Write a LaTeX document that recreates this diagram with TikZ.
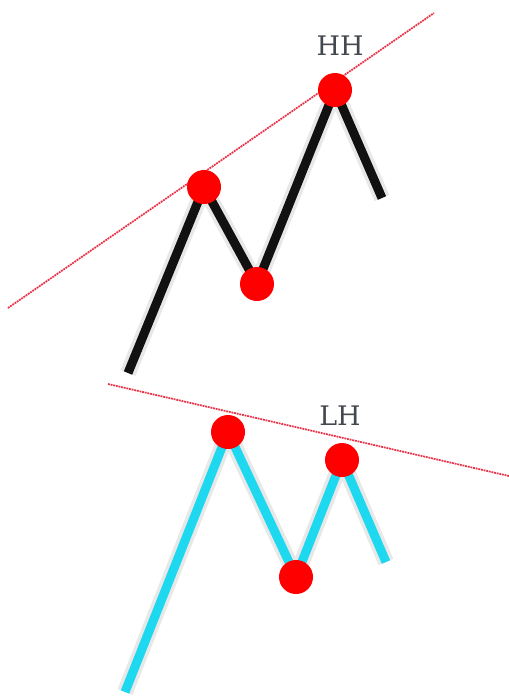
\documentclass[tikz,border=0pt]{standalone}
\usepackage{xcolor}
\usepackage{fontspec}
\usepackage{tikz}
\usetikzlibrary{positioning,backgrounds}
\newfontfamily\slabfont{DejaVu Serif}
\definecolor{swingred}{HTML}{FF0000}
\definecolor{trendred}{HTML}{E8344A}
\definecolor{bullblack}{HTML}{111111}
\definecolor{bearcyan}{HTML}{1ED8F0}
\definecolor{labelgray}{HTML}{43484E}
\tikzset{
    pivot/.style={circle, fill=swingred, inner sep=0pt, minimum size=34*0.03cm},
    swing/.style={line width=9*0.03cm, line join=miter, line cap=butt},
    drop/.style={line width=16*0.03cm, line join=round, color=black, opacity=0.09},
    trend/.style={dash pattern=on 1.6pt off 0.7pt, line width=1.5pt, color=trendred},
    tag/.style={font=\slabfont\fontsize{23}{23}\selectfont, text=labelgray}
}
\begin{document}
\begin{tikzpicture}[x=0.03cm, y=-0.03cm]
\useasboundingbox (0,0) rectangle (509,698);

% higher high swing
\coordinate (hstart) at (128,373);
\node[pivot] (hfirst) at (204,187) {};
\node[pivot] (hlow) at (257,284) {};
\node[pivot] (hhigh) at (335,90) {};
\coordinate (hend) at (382,198);
\node[tag] (hhlabel) at (340,46) {HH};

% lower high swing
\coordinate (lstart) at (125,692);
\node[pivot] (lfirst) at (228,432) {};
\node[pivot] (llow) at (296,577) {};
\node[pivot] (lhigh) at (342,460) {};
\coordinate (lend) at (386,562);
\node[tag] (lhlabel) at (340,416) {LH};

% trend lines
\coordinate (htrendA) at (8,308);
\coordinate (htrendB) at (434,13);
\coordinate (ltrendA) at (108,384);
\coordinate (ltrendB) at (509,476);

\begin{scope}[on background layer]
\begin{scope}[shift={(8,6)}]
\draw[drop] (hstart) -- (hfirst.center) -- (hlow.center) -- (hhigh.center) -- (hend);
\draw[drop] (lstart) -- (lfirst.center) -- (llow.center) -- (lhigh.center) -- (lend);
\end{scope}
\draw[swing, bullblack] (hstart) -- (hfirst.center) -- (hlow.center) -- (hhigh.center) -- (hend);
\draw[swing, bearcyan] (lstart) -- (lfirst.center) -- (llow.center) -- (lhigh.center) -- (lend);
\draw[trend] (htrendA) -- (htrendB);
\draw[trend] (ltrendA) -- (ltrendB);
\end{scope}

\end{tikzpicture}
\end{document}
